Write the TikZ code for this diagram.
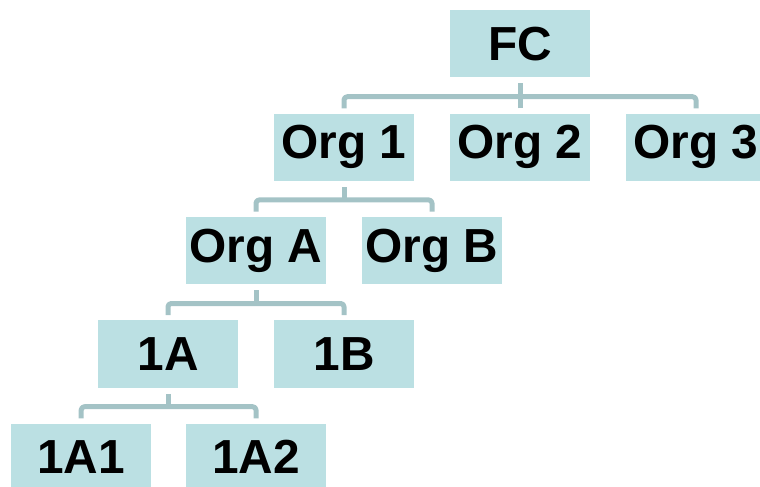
\documentclass[tikz,border=0pt]{standalone}
\usepackage{fontspec}
\setmainfont{Liberation Sans}
\usetikzlibrary{calc}
\definecolor{boxfill}{HTML}{BBE0E3}
\definecolor{linkcol}{HTML}{A4C3C6}

\begin{document}
\begin{tikzpicture}[line cap=butt, line join=round,
		orgbox/.style={fill=boxfill, minimum width=3.5cm, minimum height=1.68cm,
			inner sep=0pt, font=\fontsize{34}{40}\selectfont\bfseries},
		conn/.style={draw=linkcol, line width=0.125cm, rounded corners=0.8mm}]
		
		% fixed frame of the chart
		\clip (0,0) rectangle (19,-12.15);
		
		%========================
		% boxes, level by level
		%========================
		\node[orgbox] (fc)   at (13.0,-1.09)   {FC};
		
		\node[orgbox] (org1) at (8.6,-3.68)    {Org 1};
		\node[orgbox] (org2) at (13.0,-3.68)   {Org 2};
		\node[orgbox] (org3) at (17.4,-3.68)   {Org 3};
		
		\node[orgbox] (orga) at (6.4,-6.26)    {Org A};
		\node[orgbox] (orgb) at (10.8,-6.26)   {Org B};
		
		\node[orgbox] (a1)   at (4.2,-8.85)    {1A};
		\node[orgbox] (b1)   at (8.6,-8.85)    {1B};
		
		\node[orgbox] (a11)  at (2.03,-11.43)  {1A1};
		\node[orgbox] (a12)  at (6.4,-11.43)   {1A2};
		
		%========================
		% connectors: stem down from parent, bus over the children
		%========================
		\draw[conn] ([yshift=-1.5mm]fc.south) -- ++(0,-3.4mm);
		\draw[conn] ([yshift=1.25mm]org1.north) -- ++(0,2.9mm) -| ([yshift=1.25mm]org3.north);
		\draw[conn] ([yshift=1.25mm]org2.north) -- ++(0,2.9mm);
		
		\draw[conn] ([yshift=-1.5mm]org1.south) -- ++(0,-3.4mm);
		\draw[conn] ([yshift=1.25mm]orga.north) -- ++(0,2.9mm) -| ([yshift=1.25mm]orgb.north);
		
		\draw[conn] ([yshift=-1.5mm]orga.south) -- ++(0,-3.4mm);
		\draw[conn] ([yshift=1.25mm]a1.north) -- ++(0,2.9mm) -| ([yshift=1.25mm]b1.north);
		
		\draw[conn] ([yshift=-1.5mm]a1.south) -- ++(0,-3.4mm);
		\draw[conn] ([yshift=1.25mm]a11.north) -- ++(0,2.9mm) -| ([yshift=1.25mm]a12.north);
		
	\end{tikzpicture}
\end{document}
